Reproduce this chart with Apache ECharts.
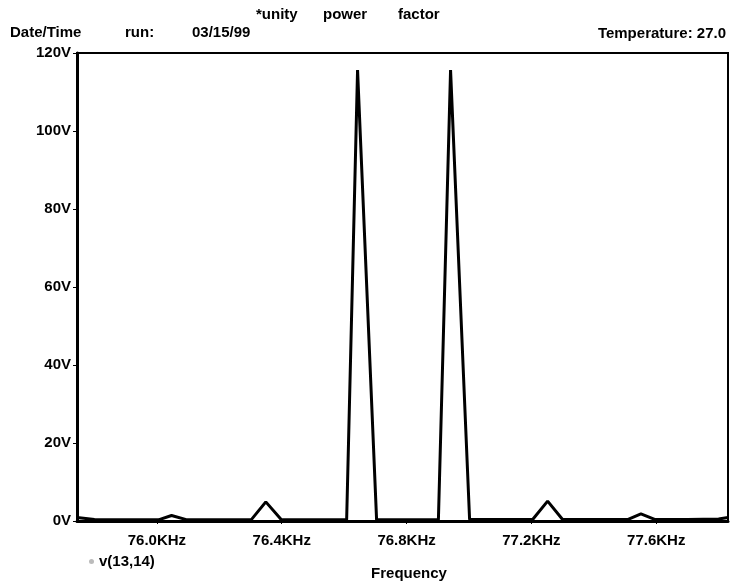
<!DOCTYPE html>
<html>
<head>
<meta charset="utf-8">
<script src="https://cdn.jsdelivr.net/npm/echarts@6/dist/echarts.min.js"></script>
<style>
html,body{margin:0;padding:0;background:#fff;}
#chart{width:730px;height:588px;}
</style>
</head>
<body>
<div id="chart"></div>
<script>
// Frequency in KHz, voltage in V
var freqKHz = [75.744, 75.80, 75.90, 76.005, 76.047, 76.097, 76.20, 76.302, 76.349, 76.399, 76.50, 76.608, 76.643, 76.704, 76.80, 76.902, 76.941, 77.002, 77.10, 77.204, 77.252, 77.300, 77.40, 77.510, 77.551, 77.595, 77.70, 77.80, 77.83];
var volts   = [0.9,    0.4,   0.3,   0.3,    1.4,    0.3,    0.3,   0.3,    4.9,    0.3,    0.3,   0.3,    115.6,  0.3,    0.3,   0.3,    115.6,  0.4,    0.4,   0.4,    5.1,    0.4,    0.4,   0.4,    1.8,    0.4,    0.4,   0.5,   0.9];
var xTickValues = [76.0, 76.4, 76.8, 77.2, 77.6];
var yTickValues = [0, 20, 40, 60, 80, 100, 120];
var seriesName = 'v(13,14)';

var FONT = 'Liberation Sans';
var chart = echarts.init(document.getElementById('chart'), null, {renderer: 'canvas'});
var pts = freqKHz.map(function (f, i) { return [f, volts[i]]; });

function txt(x, y, s, align) {
  return {
    type: 'text', left: align === 'right' ? null : x, right: align === 'right' ? x : null, top: y,
    style: { text: s, fill: '#000', font: 'bold 15px "' + FONT + '"' }
  };
}

chart.setOption({
  animation: false,
  backgroundColor: '#fff',
  grid: { left: 77, right: 2, top: 53, bottom: 67, show: true, borderColor: '#000', borderWidth: 2 },
  legend: {
    data: [{ name: seriesName, icon: 'circle' }],
    left: 84, top: 549, itemWidth: 5, itemHeight: 5,
    itemStyle: { color: '#bbb' },
    textStyle: { fontFamily: FONT, fontWeight: 'bold', fontSize: 15, color: '#000' }
  },
  xAxis: {
    type: 'value', min: 75.744, max: 77.83,
    name: 'Frequency', nameLocation: 'middle', nameGap: 45,
    nameTextStyle: { fontFamily: FONT, fontWeight: 'bold', fontSize: 15, color: '#000', padding: [0, 0, 0, 13] },
    axisLine: { show: true, onZero: false, lineStyle: { color: '#000', width: 3 } },
    axisTick: { show: true, customValues: xTickValues, length: 3, lineStyle: { color: '#000' } },
    axisLabel: {
      customValues: xTickValues, margin: 12,
      formatter: function (v) { return v.toFixed(1) + 'KHz'; },
      fontFamily: FONT, fontWeight: 'bold', fontSize: 15, color: '#000'
    },
    splitLine: { show: false }
  },
  yAxis: {
    type: 'value', min: 0, max: 120, interval: 20,
    axisLine: { show: true, lineStyle: { color: '#000', width: 3 } },
    axisTick: { show: true, length: 4, lineStyle: { color: '#000' } },
    axisLabel: {
      margin: 6,
      formatter: function (v) { return v + 'V'; },
      fontFamily: FONT, fontWeight: 'bold', fontSize: 15, color: '#000'
    },
    splitLine: { show: false }
  },
  series: [{
    name: seriesName, type: 'line', data: pts, showSymbol: false,
    lineStyle: { color: '#000', width: 3 }, itemStyle: { color: '#000' }
  }],
  graphic: [
    txt(10, 25, 'Date/Time'),
    txt(125, 25, 'run:'),
    txt(192, 25, '03/15/99'),
    txt(256, 7, '*unity'),
    txt(323, 7, 'power'),
    txt(398, 7, 'factor'),
    txt(4, 26, 'Temperature: 27.0', 'right')
  ]
});
</script>
</body>
</html>
